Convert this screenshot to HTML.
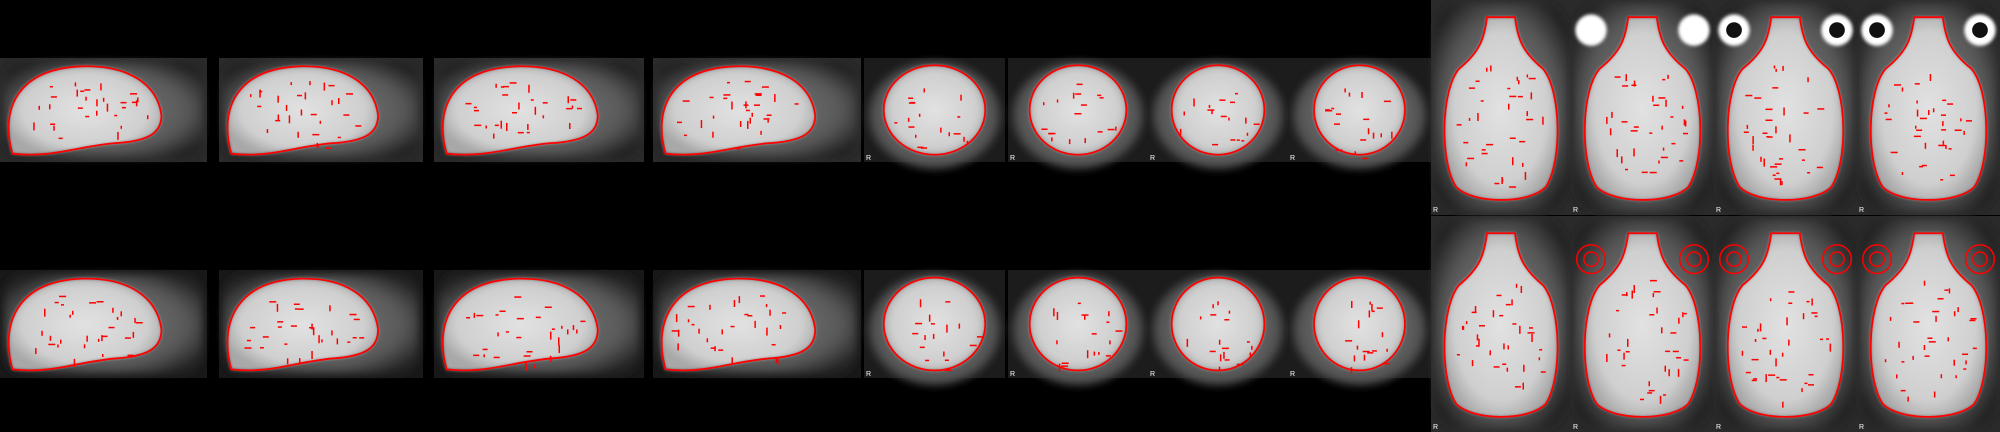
<!DOCTYPE html>
<html><head><meta charset="utf-8">
<style>
html,body{margin:0;padding:0;background:#000;}
svg{display:block;}
text{font-family:"Liberation Sans",sans-serif;}
</style></head>
<body>
<svg id="fig" width="2000" height="432" viewBox="0 0 2000 432" xmlns="http://www.w3.org/2000/svg">
<defs>
<filter id="blur" x="-20%" y="-20%" width="140%" height="140%"><feGaussianBlur stdDeviation="4"/></filter>
<filter id="blur2" x="-20%" y="-20%" width="140%" height="140%"><feGaussianBlur stdDeviation="1.5"/></filter>
<radialGradient id="brainG" cx="50%" cy="50%" r="55%">
<stop offset="0" stop-color="#e2e2e2"/><stop offset="0.75" stop-color="#cfcfcf"/><stop offset="1" stop-color="#a8a8a8"/></radialGradient>
<radialGradient id="headG" cx="50%" cy="50%" r="60%">
<stop offset="0" stop-color="#808080"/><stop offset="0.7" stop-color="#585858"/><stop offset="1" stop-color="#222"/></radialGradient>
</defs>
<g id="layer"></g>
</svg>
<script>
// panel layout data
const sagX = [0, 219, 434, 653];
const sagW = [207, 204, 210, 208];
const corX = [864, 1008, 1148, 1288];
const corW = [141, 140, 140, 143];
const axX = [1431, 1571, 1714, 1857];
const axW = [140, 143, 143, 143];
const rowTopY = [58, 270];
const rowH = [104, 108];
const axRowY = [0, 216];
const axRowH = [215, 216];
const eyeStyle = [['none','white','white','white'],['none','red','red','red']];

const NS = 'http://www.w3.org/2000/svg';
const layer = document.getElementById('layer');
function mk(tag, attrs, parent){
  const e = document.createElementNS(NS, tag);
  for (const k in attrs) e.setAttribute(k, attrs[k]);
  (parent||layer).appendChild(e);
  return e;
}
let seed = 7;
function rnd(){ seed = (seed*16807)%2147483647; return seed/2147483647; }

function speckles(g, cx, cy, rx, ry, n){
  for (let i=0;i<n;i++){
    const a = rnd()*Math.PI*2, r = Math.sqrt(rnd())*0.85;
    const vert = rnd()<0.5;
    const s = mk('rect',{x:(cx+Math.cos(a)*rx*r).toFixed(1), y:(cy+Math.sin(a)*ry*r).toFixed(1), width:vert?1.5:3+Math.floor(rnd()*5), height:vert?3+Math.floor(rnd()*6):1.5, fill:'#f00'}, g);
    
    
  }
}
function rLabel(g,x,y){
  const t = mk('text',{x:x, y:y, fill:'#fff', 'font-size':7}, g);
  t.textContent='R';
  
  
}

for (let row=0; row<2; row++){
  const y0 = rowTopY[row], h = rowH[row];
  // sagittal
  for (let i=0;i<sagX.length;i++){
    const x0=sagX[i], w=sagW[i];
    const g = mk('g',{});
    
    
    mk('rect',{x:x0,y:y0,width:w,height:h,fill:row?'#181818':'#2a2a2a'},g);
    mk('rect',{x:x0+4,y:y0+4,width:w-8,height:h-8,rx:20,fill:'url(#headG)',filter:'url(#blur)'},g);
    const d = `M${x0+w*0.06},${y0+h*0.92} C${x0+w*0.0},${y0+h*0.5} ${x0+w*0.08},${y0+h*0.1} ${x0+w*0.4},${y0+h*0.08} C${x0+w*0.62},${y0+h*0.07} ${x0+w*0.76},${y0+h*0.25} ${x0+w*0.78},${y0+h*0.55} C${x0+w*0.78},${y0+h*0.72} ${x0+w*0.72},${y0+h*0.8} ${x0+w*0.55},${y0+h*0.82} C${x0+w*0.35},${y0+h*0.86} ${x0+w*0.25},${y0+h*0.96} ${x0+w*0.06},${y0+h*0.92} Z`;
    mk('path',{d:d,fill:'url(#brainG)',filter:'url(#blur2)'},g);
    mk('path',{d:d,fill:'none',stroke:'#f00','stroke-width':1.8},g);
    speckles(g, x0+w*0.4, y0+h*0.55, w*0.38, h*0.4, 30);
  }
  // coronal
  for (let i=0;i<corX.length;i++){
    const x0=corX[i], w=corW[i];
    const g = mk('g',{});
    
    
    mk('rect',{x:x0,y:y0,width:w,height:h,fill:'#1c1c1c'},g);
    mk('ellipse',{cx:x0+w/2,cy:y0+h*0.55,rx:w*0.47,ry:h*0.52,fill:'url(#headG)',filter:'url(#blur)'},g);
    const rx=w*0.36-i*2, ry=h*0.43;
    mk('ellipse',{cx:x0+w/2,cy:y0+h*0.5,rx:rx,ry:ry,fill:'url(#brainG)',filter:'url(#blur2)'},g);
    mk('ellipse',{cx:x0+w/2,cy:y0+h*0.5,rx:rx,ry:ry,fill:'none',stroke:'#f00','stroke-width':1.8},g);
    speckles(g, x0+w/2, y0+h*0.6, rx, ry, 18);
    rLabel(g, x0+2, y0+h-2);
  }
}
// axial
for (let row=0; row<2; row++){
  const y0=axRowY[row], h=axRowH[row];
  for (let i=0;i<axX.length;i++){
    const x0=axX[i], w=axW[i];
    const g = mk('g',{});
    
    
    mk('rect',{x:x0,y:y0,width:w,height:h,fill:'#2a2a2a'},g);
    mk('rect',{x:x0+3,y:y0+3,width:w-6,height:h-6,rx:30,fill:'url(#headG)',filter:'url(#blur)'},g);
    const cx=x0+w/2;
    const d = `M${cx-w*0.1},${y0+h*0.08} L${cx+w*0.1},${y0+h*0.08} C${cx+w*0.12},${y0+h*0.18} ${cx+w*0.15},${y0+h*0.24} ${cx+w*0.3},${y0+h*0.32} C${cx+w*0.43},${y0+h*0.42} ${cx+w*0.44},${y0+h*0.75} ${cx+w*0.32},${y0+h*0.87} C${cx+w*0.2},${y0+h*0.95} ${cx-w*0.2},${y0+h*0.95} ${cx-w*0.32},${y0+h*0.87} C${cx-w*0.44},${y0+h*0.75} ${cx-w*0.43},${y0+h*0.42} ${cx-w*0.3},${y0+h*0.32} C${cx-w*0.15},${y0+h*0.24} ${cx-w*0.12},${y0+h*0.18} ${cx-w*0.1},${y0+h*0.08} Z`;
    mk('path',{d:d,fill:'url(#brainG)',filter:'url(#blur2)'},g);
    mk('path',{d:d,fill:'none',stroke:'#f00','stroke-width':1.8},g);
    const es = eyeStyle[row][i];
    if (es==='white'){
      [-1,1].forEach(s=>{
        mk('circle',{cx:cx+s*w*0.36,cy:y0+h*0.14,r:w*0.11,fill:'#fff',filter:'url(#blur2)'},g);
        if(i>1) mk('circle',{cx:cx+s*w*0.36,cy:y0+h*0.14,r:w*0.055,fill:'#111'},g);
      });
    } else if (es==='red'){
      [-1,1].forEach(s=>{
        mk('circle',{cx:cx+s*w*0.36,cy:y0+h*0.2,r:w*0.1,fill:'none',stroke:'#f00','stroke-width':1.5},g);
        mk('circle',{cx:cx+s*w*0.36,cy:y0+h*0.2,r:w*0.05,fill:'none',stroke:'#f00','stroke-width':1.5},g);
      });
    }
    speckles(g, cx, y0+h*0.58, w*0.38, h*0.35, 35);
    rLabel(g, x0+2, y0+h-3);
  }
}
</script>
</body></html>
